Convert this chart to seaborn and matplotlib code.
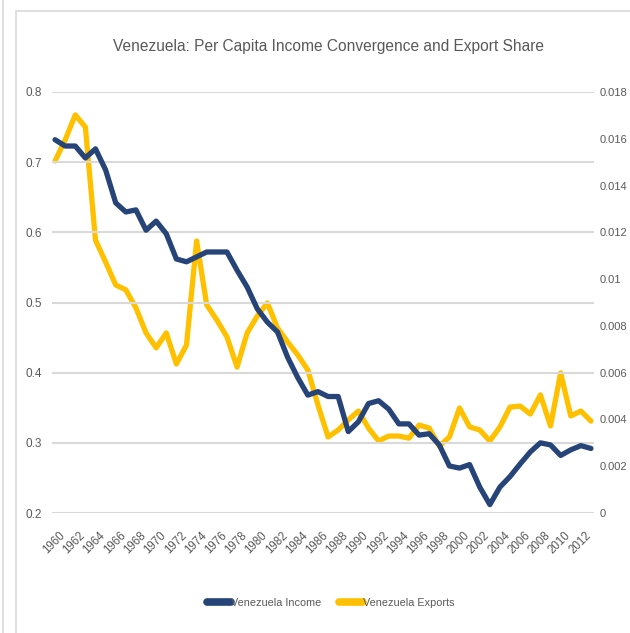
import matplotlib
matplotlib.use("Agg")
import matplotlib.pyplot as plt
from matplotlib import font_manager
from matplotlib.patches import Rectangle
from matplotlib.lines import Line2D
from matplotlib.transforms import ScaledTranslation
import seaborn as sns
import pandas as pd

years = list(range(1960, 2014))
income = [0.732, 0.723, 0.723, 0.706, 0.719, 0.689, 0.642, 0.629, 0.632, 0.603,
          0.616, 0.598, 0.562, 0.558, 0.565, 0.572, 0.572, 0.572, 0.546, 0.522,
          0.491, 0.472, 0.458, 0.422, 0.393, 0.368, 0.373, 0.366, 0.366, 0.316,
          0.330, 0.356, 0.360, 0.348, 0.327, 0.327, 0.311, 0.313, 0.297, 0.267,
          0.264, 0.269, 0.237, 0.212, 0.237, 0.252, 0.270, 0.287, 0.300, 0.297,
          0.282, 0.290, 0.296, 0.292]
exports = [0.01505, 0.01595, 0.01702, 0.0165, 0.01167, 0.01073, 0.00975, 0.00954, 0.00877, 0.0077,
           0.00706, 0.0077, 0.00637, 0.00718, 0.01163, 0.0089, 0.00825, 0.00753, 0.00624, 0.0077,
           0.00842, 0.00898, 0.00791, 0.00731, 0.00676, 0.00611, 0.00462, 0.00325, 0.00355, 0.00398,
           0.00436, 0.00363, 0.00308, 0.00329, 0.00329, 0.0032, 0.00376, 0.00363, 0.00286, 0.00325,
           0.00449, 0.00368, 0.00355, 0.00308, 0.00368, 0.00453, 0.00457, 0.00423, 0.00505, 0.00372,
           0.00599, 0.00415, 0.00436, 0.00393]
xtick_years = list(range(1960, 2013, 2))
left_ticks = [0.2, 0.3, 0.4, 0.5, 0.6, 0.7, 0.8]
right_ticks = [0, 0.002, 0.004, 0.006, 0.008, 0.01, 0.012, 0.014, 0.016, 0.018]
series_names = ["Venezuela Income", "Venezuela Exports"]
title = "Venezuela: Per Capita Income Convergence and Export Share"

sns.set_theme(style="white")
avail = {f.name for f in font_manager.fontManager.ttflist}
fam = "Liberation Sans Narrow" if "Liberation Sans Narrow" in avail else "Liberation Sans"
plt.rcParams["font.family"] = [fam, "DejaVu Sans"]

df = pd.DataFrame({"year": years, "income": income, "exports": exports})

c_inc = "#264478"
c_exp = "#FFC000"
gray = "#595959"

fig = plt.figure(figsize=(6.30, 6.33), dpi=100)
fig.patches.append(Rectangle((16 / 630, -0.1), 1.2, 1 - 11 / 633 + 0.1, transform=fig.transFigure,
                             fill=False, edgecolor="#d9d9d9", linewidth=1.2))
fig.lines.append(Line2D([3 / 630, 3 / 630], [0, 1], transform=fig.transFigure, color="#d9d9d9", lw=1.2))

ax = fig.add_axes([52 / 630, 1 - 513 / 633, (594 - 52) / 630, (513 - 92) / 633])
ax2 = ax.twinx()

sns.lineplot(data=df, x="year", y="income", ax=ax, color=c_inc, linewidth=3.8, legend=False)
sns.lineplot(data=df, x="year", y="exports", ax=ax2, color=c_exp, linewidth=3.8, legend=False)

ax.set_xlim(1959.7, 2013.3)
ax.set_ylim(0.2, 0.8)
ax2.set_ylim(0, 0.018)
ax.set_yticks(left_ticks)
ax.set_yticklabels([f"{t:g}" for t in left_ticks])
ax2.set_yticks(right_ticks)
ax2.set_yticklabels([f"{t:g}" for t in right_ticks])
ax.set_xticks(xtick_years)
ax.set_xticklabels([str(y) for y in xtick_years], rotation=45, ha="right", va="top",
                   rotation_mode="anchor")
for a in (ax, ax2):
    for s in a.spines.values():
        s.set_visible(False)
    a.set_xlabel("")
    a.set_ylabel("")
    a.tick_params(axis="both", length=0, labelcolor=gray)
ax.tick_params(axis="y", pad=7, labelsize=8.5)
ax2.tick_params(axis="y", pad=4, labelsize=8)
ax.tick_params(axis="x", pad=12, labelsize=8.3)
shift = ScaledTranslation(4 / 100, 0, fig.dpi_scale_trans)
for lab in ax.get_xticklabels():
    lab.set_transform(lab.get_transform() + shift)
ax.grid(axis="y", color="#d9d9d9", linewidth=1.5)
ax.grid(axis="x", visible=False)
ax2.grid(False)
ax.set_zorder(ax2.get_zorder() + 1)
ax.patch.set_visible(False)

fig.text(0.522, 1 - 47 / 633, title, ha="center", va="center", fontsize=11.2, color=gray)

handles = [Line2D([], [], color=c_inc, lw=5.5, solid_capstyle="round"),
           Line2D([], [], color=c_exp, lw=5.5, solid_capstyle="round")]
fig.legend(handles, series_names, loc="center", bbox_to_anchor=(0.525, 1 - 603 / 633), ncol=2,
           frameon=False, fontsize=7.8, labelcolor=gray, handlelength=2.2, handletextpad=0.0,
           columnspacing=1.6)

fig.savefig("out.png", dpi=100)
